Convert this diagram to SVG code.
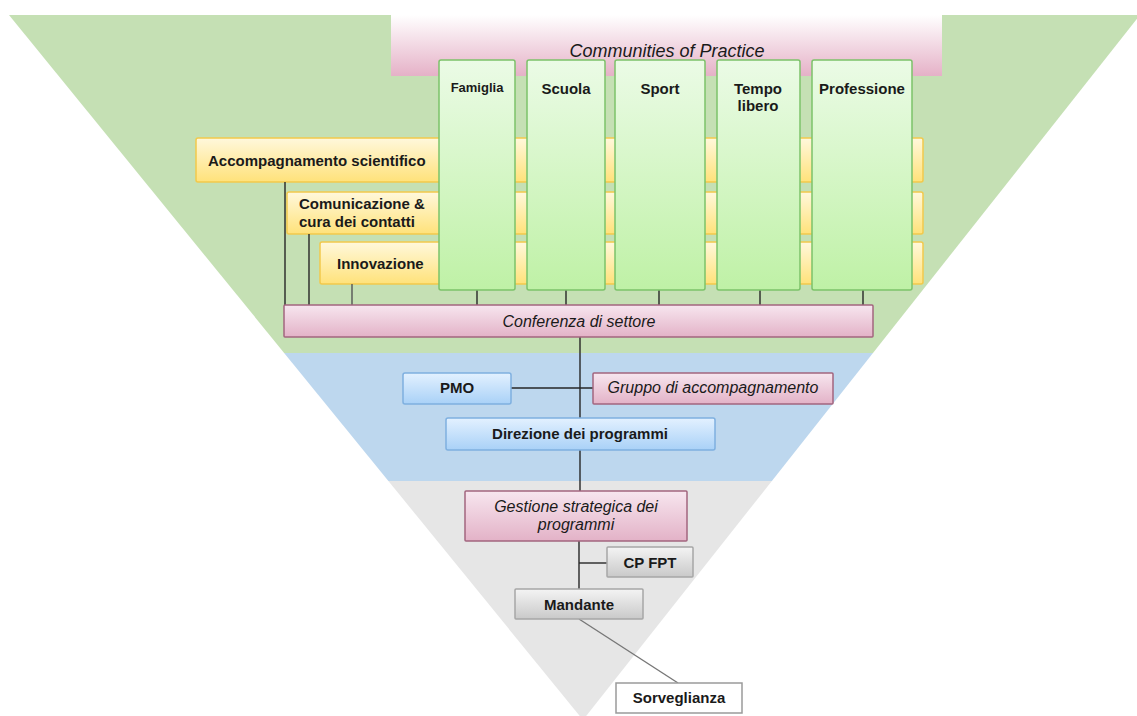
<svg xmlns="http://www.w3.org/2000/svg" width="1137" height="716" viewBox="0 0 1137 716">
<style>
.b{font-family:"Liberation Sans",Arial,sans-serif;font-weight:bold;font-size:15px;fill:#1a1a1a}
.i{font-family:"Liberation Sans",Arial,sans-serif;font-style:italic;font-size:16px;fill:#1a1a1a}
.c{text-anchor:middle}
.ln{stroke:#262626;stroke-width:1.4;fill:none}
.yel{fill:url(#gy);stroke:#f2c94c;stroke-width:1.5}
.grn{fill:url(#gg);stroke:#7cc26a;stroke-width:1.5}
.pnk{fill:url(#gp);stroke:#a3657f;stroke-width:1.5}
.blu{fill:url(#gb);stroke:#7fb0e0;stroke-width:1.5}
.gry{fill:url(#gs);stroke:#a6a6a6;stroke-width:1.5}
</style>
<defs>
<clipPath id="tri"><polygon points="9,15 1140,15 583,720"/></clipPath>
<linearGradient id="gy" x1="0" y1="0" x2="0" y2="1"><stop offset="0" stop-color="#fff8dc"/><stop offset="1" stop-color="#ffe27a"/></linearGradient>
<linearGradient id="gg" x1="0" y1="0" x2="0" y2="1"><stop offset="0" stop-color="#ebfbe6"/><stop offset="1" stop-color="#bff1a6"/></linearGradient>
<linearGradient id="gp" x1="0" y1="0" x2="0" y2="1"><stop offset="0" stop-color="#f7e6ef"/><stop offset="1" stop-color="#e3b2c7"/></linearGradient>
<linearGradient id="gc" x1="0" y1="0" x2="0" y2="1"><stop offset="0" stop-color="#ffffff"/><stop offset="1" stop-color="#e5b1c7"/></linearGradient>
<linearGradient id="gb" x1="0" y1="0" x2="0" y2="1"><stop offset="0" stop-color="#e3f1ff"/><stop offset="1" stop-color="#a9d1f7"/></linearGradient>
<linearGradient id="gs" x1="0" y1="0" x2="0" y2="1"><stop offset="0" stop-color="#f4f4f4"/><stop offset="1" stop-color="#c9c9c9"/></linearGradient>
</defs>
<rect width="1137" height="716" fill="#ffffff"/>
<g id="background" clip-path="url(#tri)">
<rect x="0" y="15" width="1137" height="338" fill="#c5e0b4"/>
<rect x="0" y="353" width="1137" height="128" fill="#bdd7ee"/>
<rect x="0" y="481" width="1137" height="240" fill="#e6e6e6"/>
</g>
<g id="communities">
<rect x="391" y="15" width="551" height="61" fill="url(#gc)"/>
<text class="i c" x="667" y="57" style="font-size:18px">Communities of Practice</text>
</g>
<g id="accompagnamento">
<rect class="yel" x="196" y="138" width="727" height="44" rx="2"/>
<text class="b" x="208" y="166">Accompagnamento scientifico</text>
</g>
<g id="comunicazione">
<rect class="yel" x="287" y="192" width="636" height="42" rx="2"/>
<text class="b" x="299" y="209">Comunicazione &amp;</text>
<text class="b" x="299" y="227">cura dei contatti</text>
</g>
<g id="innovazione">
<rect class="yel" x="320" y="242" width="603" height="42" rx="2"/>
<text class="b" x="337" y="269">Innovazione</text>
</g>
<g id="connectors">
<line class="ln" x1="285" y1="182" x2="285" y2="305"/>
<line class="ln" x1="309" y1="234" x2="309" y2="305"/>
<line class="ln" x1="352" y1="284" x2="352" y2="305" style="stroke:#555"/>
<line class="ln" x1="477" y1="290" x2="477" y2="305"/>
<line class="ln" x1="566" y1="290" x2="566" y2="305"/>
<line class="ln" x1="659" y1="290" x2="659" y2="305"/>
<line class="ln" x1="760" y1="290" x2="760" y2="305"/>
<line class="ln" x1="863" y1="290" x2="863" y2="305"/>
<line class="ln" x1="580" y1="337" x2="580" y2="418"/>
<line class="ln" x1="511" y1="388" x2="593" y2="388"/>
<line class="ln" x1="580" y1="450" x2="580" y2="491"/>
<line class="ln" x1="579" y1="541" x2="579" y2="589"/>
<line class="ln" x1="579" y1="563" x2="607" y2="563"/>
<line class="ln" x1="579" y1="619" x2="678" y2="683" style="stroke:#777"/>
</g>
<g id="famiglia">
<rect class="grn" x="439" y="60" width="76" height="230" rx="2"/>
<text class="b c" x="477" y="92" style="font-size:13px">Famiglia</text>
</g>
<g id="scuola">
<rect class="grn" x="527" y="60" width="78" height="230" rx="2"/>
<text class="b c" x="566" y="94">Scuola</text>
</g>
<g id="sport">
<rect class="grn" x="615" y="60" width="90" height="230" rx="2"/>
<text class="b c" x="660" y="94">Sport</text>
</g>
<g id="tempo">
<rect class="grn" x="717" y="60" width="83" height="230" rx="2"/>
<text class="b c" x="758" y="94">Tempo</text>
<text class="b c" x="758" y="111">libero</text>
</g>
<g id="professione">
<rect class="grn" x="812" y="60" width="100" height="230" rx="2"/>
<text class="b c" x="862" y="94">Professione</text>
</g>
<g id="conferenza">
<rect class="pnk" x="284" y="305" width="589" height="32" rx="1"/>
<text class="i c" x="579" y="327">Conferenza di settore</text>
</g>
<g id="pmo">
<rect class="blu" x="403" y="373" width="108" height="31" rx="2"/>
<text class="b c" x="457" y="393">PMO</text>
</g>
<g id="gruppo">
<rect class="pnk" x="593" y="373" width="240" height="31" rx="1"/>
<text class="i c" x="713" y="393">Gruppo di accompagnamento</text>
</g>
<g id="direzione">
<rect class="blu" x="446" y="418" width="269" height="32" rx="2"/>
<text class="b c" x="580" y="439">Direzione dei programmi</text>
</g>
<g id="gestione">
<rect class="pnk" x="465" y="491" width="222" height="50" rx="1"/>
<text class="i c" x="576" y="512">Gestione strategica dei</text>
<text class="i c" x="576" y="530">programmi</text>
</g>
<g id="cpfpt">
<rect class="gry" x="607" y="547" width="86" height="30" rx="1"/>
<text class="b c" x="650" y="568">CP FPT</text>
</g>
<g id="mandante">
<rect class="gry" x="515" y="589" width="128" height="30" rx="1"/>
<text class="b c" x="579" y="610">Mandante</text>
</g>
<g id="sorveglianza">
<rect x="616" y="683" width="126" height="30" fill="#ffffff" stroke="#9a9a9a" stroke-width="1.5"/>
<text class="b c" x="679" y="703">Sorveglianza</text>
</g>
</svg>
